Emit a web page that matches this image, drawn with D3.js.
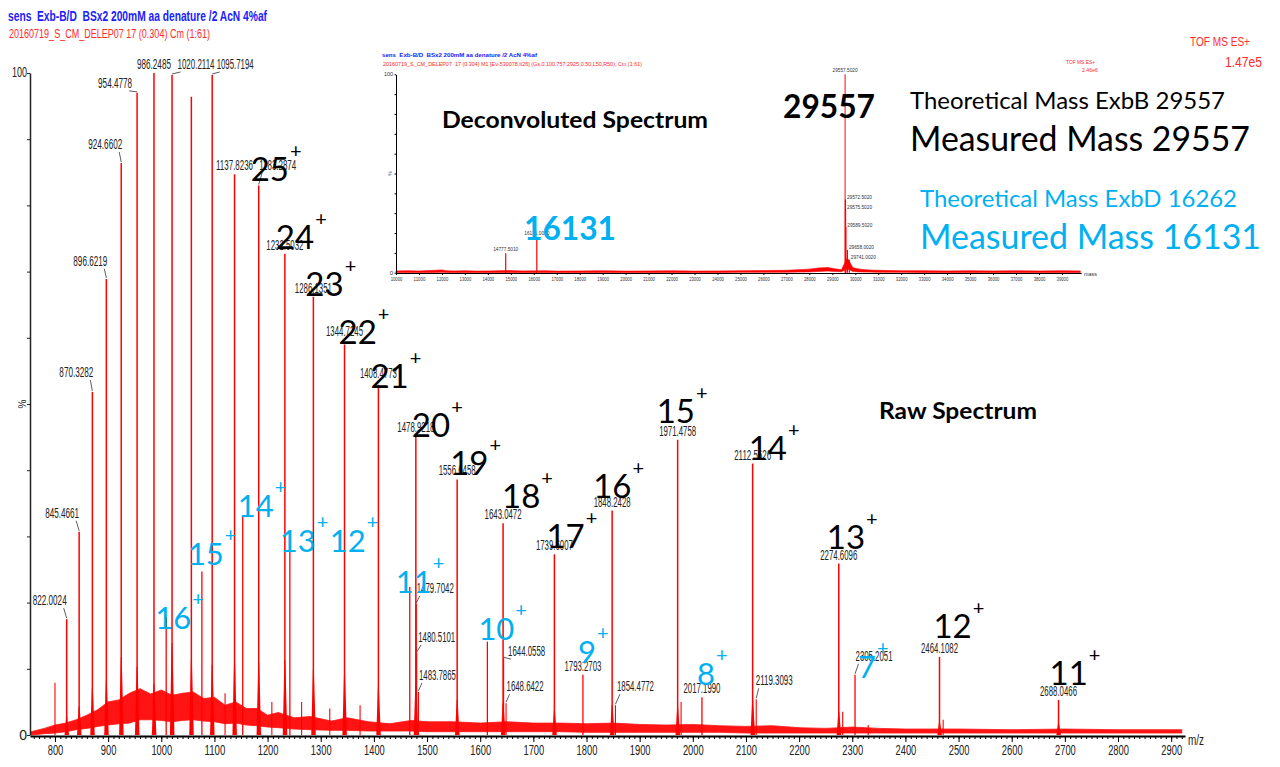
<!DOCTYPE html>
<html>
<head>
<meta charset="utf-8">
<style>
    body { margin: 0; background: #fff; }
    svg { display: block; background: #fff; }
    text { white-space: pre; }
    .mono { font-family: "Liberation Sans Narrow", "Liberation Sans", Arial, sans-serif; }
    .callout { font-family: Lato, "Open Sans", sans-serif; }
</style>
</head>
<body>
<div class="container"></div>
<script src="https://d3js.org/d3.v7.min.js"></script>
<script>
    // ---- raw spectrum: ExbB charge envelope (m/z, % intensity, skirt height %, charge)
    var exbbMz = [822.0024, 845.4661, 870.3282, 896.6219, 924.6602, 954.4778, 986.2485, 1020.2114, 1056.6, 1095.7194,
                  1137.8236, 1183.2874, 1232.5032, 1286.1351, 1344.7245, 1408.4773, 1478.9218, 1556.6458, 1643.0472,
                  1739.6007, 1848.2428, 1971.4758, 2112.5626, 2274.6096, 2464.1082, 2688.0466];
    var exbbInt = [17.5, 30.7, 51.8, 68.9, 86.4, 97.0, 100, 99.7, 96.4, 99.7,
                   84.7, 83.0, 72.7, 66.2, 59.0, 52.9, 45.2, 38.6, 32.0,
                   27.3, 33.9, 44.6, 41.0, 25.9, 11.8, 5.3];
    var exbbSkirt = [2.8, 4.3, 7.1, 8.3, 11.8, 10.3, 7.8, 13.9, 11.3, 10.6,
                     11.3, 10.9, 11.3, 9.8, 9.4, 7.3, 8.0, 5.3, 4.8,
                     3.8, 4.5, 4.2, 5.3, 3.5, 2.0, 1.8];
    var exbbZ = [36, 35, 34, 33, 32, 31, 30, 29, 28, 27, 26, 25, 24, 23, 22, 21, 20, 19, 18, 17, 16, 15, 14, 13, 12, 11];
    var exbbLabelled = [1, 1, 1, 1, 1, 1, 1, 1, 0, 1, 1, 1, 1, 1, 1, 1, 1, 1, 1, 1, 1, 1, 1, 1, 1, 1];
    var exbbAnnotated = [25, 24, 23, 22, 21, 20, 19, 18, 17, 16, 15, 14, 13, 12, 11];

    // ---- raw spectrum: ExbD charge envelope
    var exbdMz = [1009.2, 1076.4, 1153.2, 1241.9, 1345.3, 1467.5, 1613.5, 1793.2703, 2017.1990, 2305.2051];
    var exbdInt = [17.8, 24.7, 33.0, 27.7, 27.0, 22.4, 14.1, 9.1, 5.7, 9.1];
    var exbdZ = [16, 15, 14, 13, 12, 11, 10, 9, 8, 7];
    var exbdLabelled = [0, 0, 0, 0, 0, 0, 0, 1, 1, 1];

    // ---- raw spectrum: other small centroids
    var minorMz = [800.0, 1120, 1208, 1264, 1317, 1374, 1479.7042, 1480.5101, 1483.7865, 1644.0558, 1648.6422,
                   1854.4772, 1978, 2119.3093, 2282, 2330, 2471];
    var minorInt = [7.9, 6.3, 5.0, 5.0, 4.0, 4.5, 19.8, 12.4, 6.5, 11.6, 4.8,
                    4.5, 5.0, 5.4, 3.5, 1.5, 2.3];
    var minorLabelled = [0, 0, 0, 0, 0, 0, 1, 1, 1, 1, 1, 1, 0, 1, 0, 0, 0];

    // ---- raw spectrum: chemical noise band (low / high envelope, %)
    var noiseMz = [755, 780, 800, 820, 840, 860, 880, 900, 920, 940, 960, 980, 1000, 1020, 1040, 1060, 1080, 1100, 1120, 1140,
                   1160, 1180, 1200, 1220, 1250, 1280, 1320, 1350, 1390, 1430, 1470, 1500, 1550, 1600, 1650, 1700, 1750, 1800,
                   1850, 1900, 1950, 2000, 2050, 2100, 2150, 2200, 2250, 2300, 2350, 2400, 2500, 2600, 2700, 2800, 2920];
    var noiseLo = [0, 0.2, 0.3, 0.5, 0.8, 1.0, 1.3, 1.5, 1.7, 1.8, 2.3, 2.3, 2.2, 2.0, 2.2, 2.3, 2.1, 2.0, 1.7, 1.8,
                   1.5, 1.4, 1.2, 1.1, 0.9, 0.8, 0.7, 0.7, 0.6, 0.6, 0.6, 0.5, 0.5, 0.5, 0.5, 0.5, 0.5, 0.4,
                   0.4, 0.4, 0.4, 0.4, 0.4, 0.3, 0.3, 0.3, 0.3, 0.3, 0.3, 0.3, 0.3, 0.3, 0.3, 0.3, 0.3];
    var noiseHi = [0.5, 1.0, 1.5, 1.8, 2.3, 3.0, 3.8, 5.0, 5.3, 6.3, 7.0, 6.2, 6.8, 6.0, 6.3, 6.5, 5.5, 5.7, 4.5, 5.0,
                   4.0, 4.0, 3.0, 3.4, 2.6, 2.8, 2.1, 2.6, 2.0, 1.7, 2.2, 2.0, 2.0, 1.8, 2.0, 1.8, 1.8, 1.7,
                   1.8, 1.6, 1.5, 1.6, 1.4, 1.3, 1.4, 1.1, 1.0, 1.2, 1.0, 0.9, 0.9, 0.8, 0.9, 0.8, 0.8];

    var mzTicks = d3.range(800, 2901, 100);

    // ---- deconvoluted (inset) spectrum
    var decoMass = [14777.5010, 16131.0000, 29557.5020, 29572.5020, 29575.5020, 29589.5020, 29658.0020, 29741.0020];
    var decoInt = [9.8, 18.1, 100, 37, 32, 23, 11.5, 6.5];
    var decoNoiseMass = [10000, 10500, 11000, 11500, 12000, 12200, 12500, 13000, 13500, 14000, 14500, 14900, 15500, 16500, 17000,
                         18000, 19000, 20000, 21000, 22000, 23000, 24000, 25000, 26000, 27000, 27500, 28000, 28400, 28800, 29100,
                         29400, 29650, 29900, 30200, 30600, 31000, 32000, 33000, 34000, 35000, 36000, 37000, 38000, 39000, 39800];
    var decoNoiseLo = [0.1, 0.1, 0.1, 0.1, 0.2, 0.1, 0.1, 0.1, 0.1, 0.1, 0.1, 0.1, 0.1, 0.1, 0.1,
                       0.1, 0.1, 0.1, 0.1, 0.1, 0.1, 0.1, 0.2, 0.2, 0.2, 0.3, 0.4, 0.6, 0.8, 0.6,
                       0.5, 2.0, 0.6, 0.4, 0.3, 0.2, 0.2, 0.1, 0.1, 0.1, 0.1, 0.1, 0.1, 0.1, 0.1];
    var decoNoiseHi = [0.9, 1.0, 0.9, 1.1, 1.4, 1.0, 0.9, 1.0, 0.8, 0.9, 1.0, 1.1, 0.9, 1.0, 0.8,
                       0.9, 1.0, 0.8, 0.9, 1.0, 0.8, 0.9, 1.0, 1.1, 1.2, 1.5, 1.8, 2.4, 2.6, 2.0,
                       1.5, 7.5, 2.5, 1.8, 1.3, 1.2, 1.0, 1.0, 0.9, 1.0, 0.9, 1.0, 0.9, 1.0, 0.9];
    var massTicks = d3.range(10000, 39001, 1000);

    // ---- layout nudges (px) for labels that sit away from their peak
    var labelNudge = {
        '822.0024': [-17, -14], '845.4661': [-17, -14], '870.3282': [-16, -15], '896.6219': [-16, -13],
        '924.6602': [-16, -14], '954.4778': [-22, -5], '1020.2114': [24, -6], '1095.7194': [23, -6],
        '1183.2874': [19, -16], '1344.7245': [0, -8], '1408.4773': [0, -7], '2305.2051': [19, -14],
        '1479.7042': [19, -11], '1480.5101': [20, -11], '1483.7865': [19, -12], '1644.0558': [23, -2],
        '1648.6422': [19, -12], '1854.4772': [20, -14], '2119.3093': [18, -14]
    };
    var exbbChargeNudge = { 25: [-8, -5], 24: [-9, -5], 23: [-8, -1], 22: [-6, 0], 21: [-8, 3], 20: [-4, 1],
                            19: [-7, -4], 18: [-1, -15], 17: [-8, -6], 16: [-19, -13], 15: [-21, -17],
                            14: [-4, -4], 13: [-12, -15], 12: [-6, -19], 11: [-9, -15] };
    var exbdChargeNudge = { 16: [-11, 12], 15: [-14, -6], 14: [-5, 0], 13: [-10, 0], 12: [-15, -4],
                            11: [-14, 6], 10: [-9, -2], 9: [-5, -12], 8: [-5, -12], 7: [3, 3] };

    var RED = '#ff0000', BLUE = '#00b0f0';
    var intFmt = d3.format('d');

    var svg = d3.select('.container')
                .append('svg')
                .attr('width', 1280)
                .attr('height', 767);

    var x = d3.scaleLinear().domain([753, 2926]).range([30, 1185]);
    var y = d3.scaleLinear().domain([0, 100]).range([735, 73]);

    // ---------- headers
    svg.append('text').attr('class', 'mono').attr('x', 8).attr('y', 20.5)
       .attr('textLength', 259).attr('lengthAdjust', 'spacingAndGlyphs')
       .style('font-size', '15px').style('font-weight', 'bold').style('fill', '#2020ff')
       .text('sens  Exb-B/D  BSx2 200mM aa denature /2 AcN 4%af');
    svg.append('text').attr('class', 'mono').attr('x', 9).attr('y', 37.5)
       .attr('textLength', 201).attr('lengthAdjust', 'spacingAndGlyphs')
       .style('font-size', '13px').style('fill', '#ff2a2a')
       .text('20160719_S_CM_DELEP07 17 (0.304) Cm (1:61)');
    svg.append('text').attr('class', 'mono').attr('x', 1190).attr('y', 46)
       .attr('textLength', 60).attr('lengthAdjust', 'spacingAndGlyphs')
       .style('font-size', '12px').style('fill', '#ff2a2a').text('TOF MS ES+');
    svg.append('text').attr('class', 'mono').attr('x', 1225).attr('y', 67)
       .attr('textLength', 37).attr('lengthAdjust', 'spacingAndGlyphs')
       .style('font-size', '15px').style('fill', '#ff2a2a').text('1.47e5');

    // ---------- noise band
    var band = d3.area()
                 .x(function(i) { return x(noiseMz[i]); })
                 .y0(function(i) { return y(noiseLo[i]); })
                 .y1(function(i) { return y(noiseHi[i]); });
    svg.append('path').attr('d', band(d3.range(noiseMz.length)))
       .attr('fill', RED).attr('stroke', RED).attr('stroke-width', 0.8).attr('opacity', 0.92);

    // ---------- peaks
    var plot = svg.append('g');
    var skirt = d3.line().x(function(d) { return x(d[0]); }).y(function(d) { return y(d[1]); });
    exbbMz.forEach(function(m, i) {
        plot.append('path')
            .attr('d', skirt([[m - 4, 0], [m - 0.9, exbbSkirt[i]], [m + 0.9, exbbSkirt[i]], [m + 4.5, 0]]) + 'Z')
            .attr('fill', RED);
    });
    function stick(m, v, w) {
        plot.append('line')
            .attr('x1', x(m)).attr('x2', x(m))
            .attr('y1', y(0)).attr('y2', y(v))
            .attr('stroke', RED).attr('stroke-width', w);
    }
    exbbMz.forEach(function(m, i) { stick(m, exbbInt[i], 1.5); });
    exbdMz.forEach(function(m, i) { if (exbdZ[i] !== 12) stick(m, exbdInt[i], 1.3); });
    minorMz.forEach(function(m, i) { stick(m, minorInt[i], 1.1); });

    // ---------- peak labels
    var labels = svg.append('g').attr('class', 'mono');
    function peakLabel(m, v) {
        var s = m.toFixed(4);
        var n = labelNudge[s] || [0, -4];
        var len = s.length * 3 + 10;
        var cx = x(m) + n[0], by = y(v) + n[1];
        labels.append('text')
              .attr('x', cx).attr('y', by)
              .attr('text-anchor', 'middle')
              .attr('textLength', len).attr('lengthAdjust', 'spacingAndGlyphs')
              .style('font-size', '15px').style('fill', '#222')
              .text(s);
        if (n[0] !== 0) {
            var hw = len / 2;
            var sx = n[0] < 0 ? cx + hw - 3 : cx - hw + 3;
            labels.append('line')
                  .attr('x1', sx).attr('y1', by + 3)
                  .attr('x2', x(m)).attr('y2', y(v) - 1)
                  .attr('stroke', '#333').attr('stroke-width', 0.8);
        }
    }
    exbbMz.forEach(function(m, i) { if (exbbLabelled[i]) peakLabel(m, exbbInt[i]); });
    exbdMz.forEach(function(m, i) { if (exbdLabelled[i]) peakLabel(m, exbdInt[i]); });
    minorMz.forEach(function(m, i) { if (minorLabelled[i]) peakLabel(m, minorInt[i]); });

    // ---------- axes
    var xAxis = d3.axisBottom(x).tickValues(mzTicks).tickFormat(intFmt).tickSize(6).tickSizeOuter(0);
    var gx = svg.append('g').attr('transform', 'translate(0,736)').call(xAxis);
    gx.select('.domain').attr('stroke', '#000').attr('stroke-width', 2.2);
    gx.selectAll('.tick line').attr('stroke', '#000');
    gx.selectAll('.tick text')
      .attr('class', 'mono')
      .attr('textLength', function(d) { return String(d).length * 5.2; })
      .attr('lengthAdjust', 'spacingAndGlyphs')
      .style('font-size', '14px').style('fill', '#222');
    var gxm = svg.append('g').attr('transform', 'translate(0,736)')
                 .call(d3.axisBottom(x).tickValues(d3.range(760, 2921, 10)).tickSize(3).tickFormat(''));
    gxm.select('.domain').remove();
    gxm.selectAll('.tick line').attr('stroke', '#000');
    svg.append('text').attr('class', 'mono').attr('x', 1188).attr('y', 745)
       .attr('textLength', 16).attr('lengthAdjust', 'spacingAndGlyphs')
       .style('font-size', '14px').style('fill', '#222').text('m/z');

    var yAxis = d3.axisLeft(y).tickValues(d3.range(0, 101, 10)).tickSize(3).tickSizeOuter(0).tickFormat('');
    var gy = svg.append('g').attr('transform', 'translate(30,0)').call(yAxis);
    gy.select('.domain').attr('stroke', '#222').attr('stroke-width', 1.5);
    gy.selectAll('.tick line').attr('stroke', '#222');
    svg.append('text').attr('class', 'mono').attr('x', 27).attr('y', y(100) + 4).attr('text-anchor', 'end')
       .attr('textLength', 15).attr('lengthAdjust', 'spacingAndGlyphs')
       .style('font-size', '14px').style('fill', '#222').text('100');
    svg.append('text').attr('class', 'mono').attr('x', 27).attr('y', y(0) + 5).attr('text-anchor', 'end')
       .style('font-size', '14px').style('fill', '#222').text('0');
    svg.append('text').attr('class', 'mono')
       .attr('transform', 'translate(26,' + y(50) + ') rotate(-90)')
       .attr('text-anchor', 'middle')
       .style('font-size', '10px').style('fill', '#222').text('%');

    // ---------- charge-state annotations
    var notes = svg.append('g').attr('class', 'callout');
    function charge(m, v, z, nudge, color, size) {
        var t = notes.append('text')
                     .attr('x', x(m) + nudge[0]).attr('y', y(v) + nudge[1])
                     .style('font-size', size + 'px').style('fill', color);
        t.append('tspan').text(z);
        t.append('tspan').attr('dx', 1).attr('dy', -23).style('font-size', '20px').text('+');
    }
    exbbMz.forEach(function(m, i) {
        if (exbbAnnotated.indexOf(exbbZ[i]) >= 0) charge(m, exbbInt[i], exbbZ[i], exbbChargeNudge[exbbZ[i]], '#000', 33);
    });
    exbdMz.forEach(function(m, i) {
        charge(m, exbdInt[i], exbdZ[i], exbdChargeNudge[exbdZ[i]], BLUE, 31);
    });

    notes.append('text').attr('x', 879).attr('y', 419)
         .attr('textLength', 158).attr('lengthAdjust', 'spacingAndGlyphs')
         .style('font-size', '22px').style('font-weight', 'bold').style('fill', '#000').text('Raw Spectrum');

    // ---------- inset: deconvoluted spectrum
    var ix = d3.scaleLinear().domain([10000, 39830]).range([396, 1081]);
    var iy = d3.scaleLinear().domain([0, 100]).range([272.7, 74.3]);
    var inset = svg.append('g');

    inset.append('text').attr('class', 'mono').attr('x', 382).attr('y', 57)
         .attr('textLength', 155).attr('lengthAdjust', 'spacingAndGlyphs')
         .style('font-size', '6px').style('font-weight', 'bold').style('fill', '#2020ff')
         .text('sens  Exb-B/D  BSx2 200mM aa denature /2 AcN 4%af');
    inset.append('text').attr('class', 'mono').attr('x', 383).attr('y', 65.5)
         .attr('textLength', 259).attr('lengthAdjust', 'spacingAndGlyphs')
         .style('font-size', '6px').style('fill', '#ff2a2a')
         .text('20160719_S_CM_DELEP07  17 (0.304) M1 [Ev-530078,It26] (Gs,0.100,757:2925,0.50,L50,R50); Cm (1:61)');
    inset.append('text').attr('class', 'mono').attr('x', 1066).attr('y', 64)
         .attr('textLength', 29).attr('lengthAdjust', 'spacingAndGlyphs')
         .style('font-size', '6px').style('fill', '#ff2a2a').text('TOF MS ES+');
    inset.append('text').attr('class', 'mono').attr('x', 1082).attr('y', 72)
         .attr('textLength', 16).attr('lengthAdjust', 'spacingAndGlyphs')
         .style('font-size', '6px').style('fill', '#ff2a2a').text('2.46e6');

    var iband = d3.area()
                  .x(function(i) { return ix(decoNoiseMass[i]); })
                  .y0(function(i) { return iy(decoNoiseLo[i]); })
                  .y1(function(i) { return iy(decoNoiseHi[i]); });
    inset.append('path').attr('d', iband(d3.range(decoNoiseMass.length)))
         .attr('fill', RED).attr('stroke', RED).attr('stroke-width', 0.6);

    decoMass.forEach(function(m, i) {
        inset.append('line')
             .attr('x1', ix(m)).attr('x2', ix(m))
             .attr('y1', iy(0)).attr('y2', iy(decoInt[i]))
             .attr('stroke', i === 2 ? '#ff3030' : RED).attr('stroke-width', 1.2);
    });
    decoMass.forEach(function(m, i) {
        var s = m.toFixed(4);
        var t = inset.append('text').attr('class', 'mono')
                     .attr('textLength', 25).attr('lengthAdjust', 'spacingAndGlyphs')
                     .style('font-size', '6px').style('fill', '#333').text(s);
        if (i < 3) {
            t.attr('x', ix(m)).attr('y', iy(decoInt[i]) - 2).attr('text-anchor', 'middle');
        } else {
            t.attr('x', ix(m) + 1.5).attr('y', iy(decoInt[i]) - 0.5);
        }
    });

    var ixAxis = d3.axisBottom(ix).tickValues(massTicks).tickFormat(intFmt).tickSize(2).tickSizeOuter(0);
    var gix = inset.append('g').attr('transform', 'translate(0,273)').call(ixAxis);
    gix.select('.domain').attr('stroke', '#000').attr('stroke-width', 1);
    gix.selectAll('.tick line').attr('stroke', '#000');
    gix.selectAll('.tick text')
       .attr('class', 'mono').attr('y', 4)
       .attr('textLength', 11.7).attr('lengthAdjust', 'spacingAndGlyphs')
       .style('font-size', '6px').style('fill', '#333');
    var gixm = inset.append('g').attr('transform', 'translate(0,273)')
                    .call(d3.axisBottom(ix).tickValues(d3.range(10000, 39801, 200)).tickSize(1).tickFormat(''));
    gixm.select('.domain').remove();
    gixm.selectAll('.tick line').attr('stroke', '#000');
    inset.append('text').attr('class', 'mono').attr('x', 1084).attr('y', 275.5)
         .attr('textLength', 13).attr('lengthAdjust', 'spacingAndGlyphs')
         .style('font-size', '6px').style('fill', '#333').text('mass');

    var giy = inset.append('g').attr('transform', 'translate(396,0)')
                   .call(d3.axisLeft(iy).tickValues(d3.range(0, 101, 10)).tickSize(1.5).tickSizeOuter(0).tickFormat(''));
    giy.select('.domain').attr('stroke', '#000').attr('stroke-width', 1);
    giy.selectAll('.tick line').attr('stroke', '#000');
    inset.append('text').attr('class', 'mono').attr('x', 393).attr('y', iy(100) + 2).attr('text-anchor', 'end')
         .attr('textLength', 9).attr('lengthAdjust', 'spacingAndGlyphs')
         .style('font-size', '6px').style('fill', '#333').text('100');
    inset.append('text').attr('class', 'mono').attr('x', 393).attr('y', iy(0) + 2).attr('text-anchor', 'end')
         .style('font-size', '6px').style('fill', '#333').text('0');
    inset.append('text').attr('class', 'mono')
         .attr('transform', 'translate(392,' + iy(50) + ') rotate(-90)').attr('text-anchor', 'middle')
         .style('font-size', '5px').style('fill', '#333').text('%');

    // ---------- inset call-outs
    var big = svg.append('g').attr('class', 'callout');
    function callout(s, x0, y0, len, size, color, bold) {
        big.append('text').attr('x', x0).attr('y', y0)
           .attr('textLength', len).attr('lengthAdjust', 'spacingAndGlyphs')
           .style('font-size', size + 'px').style('font-weight', bold ? 'bold' : 'normal')
           .style('fill', color).text(s);
    }
    callout('Deconvoluted Spectrum', 442, 128.3, 266, 23, '#000', true);
    callout('29557', 783, 117.7, 92, 31.5, '#000', true);
    callout('16131', 524, 240, 92, 32, BLUE, true);
    callout('Theoretical Mass ExbB 29557', 910, 109, 315, 23.5, '#000', false);
    callout('Measured Mass 29557', 910, 151, 340, 34, '#000', false);
    callout('Theoretical Mass ExbD 16262', 920, 206.7, 317, 23.5, BLUE, false);
    callout('Measured Mass 16131', 920, 249, 341, 34, BLUE, false);
</script>
</body>
</html>
